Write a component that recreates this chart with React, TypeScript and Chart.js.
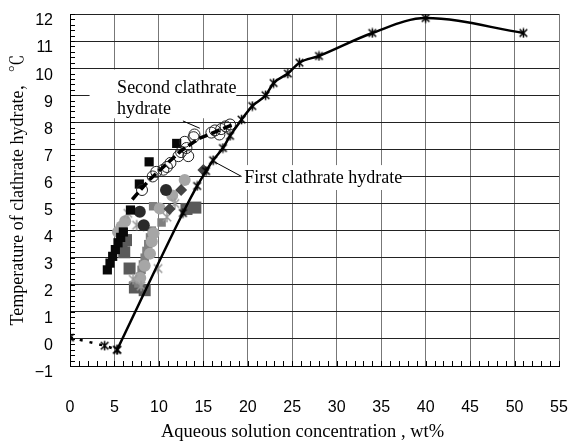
import React, { useEffect, useRef } from 'react';
import { Chart, registerables } from 'chart.js';

Chart.register(...registerables);

// ---- axes ----
const X_MIN = 0;
const X_MAX = 55;
const X_STEP = 5;
const Y_MIN = -1;
const Y_MAX = 12;
const Y_STEP = 1;
const X_TITLE = 'Aqueous solution concentration , wt%';
const Y_TITLE = 'Temperature of clathrate hydrate，℃';

// ---- first clathrate hydrate equilibrium curve (asterisks) ----
const firstX = [5.3, 12.7, 14.3, 15.3, 16.1, 17.2, 18.0, 19.3, 20.5, 22.0, 22.9, 24.5, 25.8, 28.0, 34.0, 40.0, 51.0];
const firstY = [-0.4, 4.65, 5.65, 6.2, 6.6, 7.05, 7.5, 8.1, 8.6, 9.0, 9.45, 9.8, 10.2, 10.45, 11.3, 11.85, 11.3];

// ---- ice line (dashed) ----
const iceX = [0, 3.9, 5.3];
const iceY = [0.05, -0.25, -0.4];

// ---- second clathrate hydrate trend (thick dashed) ----
const secondX = [7.0, 9.0, 11.0, 12.5, 14.5, 16.0, 18.2];
const secondY = [5.15, 5.9, 6.5, 6.95, 7.4, 7.6, 7.9];

// ---- open circles ----
const openCircX = [8.1, 9.3, 9.7, 10.5, 10.9, 11.3, 12.2, 12.5, 12.9, 13.1, 13.3, 13.9, 14.0, 15.9, 16.3, 16.8, 17.0, 17.5, 18.0];
const openCircY = [5.5, 6.0, 6.17, 6.25, 6.35, 6.5, 6.75, 6.9, 7.28, 7.05, 6.75, 7.45, 7.55, 7.62, 7.7, 7.55, 7.75, 7.85, 7.92];

// ---- black squares ----
const blackSqX = [4.2, 4.5, 4.8, 5.1, 5.4, 5.7, 6.0, 6.8, 7.8, 8.9, 12.0];
const blackSqY = [2.55, 2.8, 3.05, 3.3, 3.55, 3.75, 3.95, 4.76, 5.72, 6.54, 7.22];

// ---- dark gray big squares ----
const darkSqX = [5.8, 6.3, 6.1, 6.7, 7.3, 8.4, 13.1, 14.1];
const darkSqY = [3.5, 3.65, 3.2, 2.6, 1.9, 1.8, 4.8, 4.85];

// ---- gray squares ----
const graySqX = [7.7, 7.9, 8.05, 8.2, 8.4, 8.6, 8.8, 9.0, 9.2, 9.35, 10.3];
const graySqY = [2.05, 2.3, 2.55, 2.75, 3.0, 3.25, 3.5, 3.75, 4.0, 4.9, 4.3];

// ---- light gray circles ----
const grayCircX = [5.4, 5.8, 6.2, 7.9, 8.4, 9.0, 9.2, 9.4, 10.1, 11.5, 12.9];
const grayCircY = [3.95, 4.15, 4.35, 2.25, 2.7, 3.15, 3.6, 3.9, 4.82, 5.3, 5.87];

// ---- dark circles ----
const darkCircX = [7.85, 8.3, 10.8];
const darkCircY = [4.7, 4.2, 5.5];

// ---- dark diamonds ----
const diamondX = [11.2, 12.5, 15.0];
const diamondY = [4.8, 5.5, 6.24];

// ---- gray asterisks ----
const grayStarX = [6.5, 7.5, 10.9, 11.8, 9.9, 7.1, 8.0];
const grayStarY = [4.64, 4.2, 4.5, 5.0, 2.6, 2.2, 1.95];

// ---- annotation texts ----
const SECOND_LABEL = ['Second clathrate', 'hydrate'];
const FIRST_LABEL = ['First clathrate hydrate'];

const SERIF = "'Liberation Serif', 'Noto Serif CJK JP', 'Noto Sans CJK JP', serif";
const SANS = "'Liberation Sans Narrow', 'Liberation Sans', Arial, sans-serif";

const pts = (xs: number[], ys: number[]) => xs.map((x, i) => ({ x, y: ys[i] }));

function asterisk(color: string, size: number, lw: number) {
  const c = document.createElement('canvas');
  c.width = size;
  c.height = size;
  const g = c.getContext('2d')!;
  g.strokeStyle = color;
  g.lineWidth = lw;
  const m = size / 2;
  const r = size / 2 - lw / 2;
  const d = r * 0.8;
  g.beginPath();
  g.moveTo(m, m - r);
  g.lineTo(m, m + r);
  g.moveTo(m - d, m - d);
  g.lineTo(m + d, m + d);
  g.moveTo(m + d, m - d);
  g.lineTo(m - d, m + d);
  g.stroke();
  return c;
}

const decorPlugin = {
  id: 'decor',
  beforeDatasetsDraw(chart: any) {
    const { ctx, chartArea, scales } = chart;
    const xs = scales.x;
    const ys = scales.y;
    ctx.save();
    // minor ticks
    ctx.strokeStyle = '#000';
    ctx.lineWidth = 1;
    ctx.beginPath();
    for (let v = Y_MIN; v <= Y_MAX + 1e-9; v += 0.2) {
      const py = Math.round(ys.getPixelForValue(v)) + 0.5;
      ctx.moveTo(chartArea.left, py);
      ctx.lineTo(chartArea.left + 5, py);
    }
    for (let v = X_MIN; v <= X_MAX; v += 1) {
      const px = Math.round(xs.getPixelForValue(v)) + 0.5;
      ctx.moveTo(px, chartArea.bottom);
      ctx.lineTo(px, chartArea.bottom - 5);
    }
    ctx.stroke();

    const box = (x0: number, x1: number, y0: number, y1: number) => {
      const a = xs.getPixelForValue(x0);
      const b = xs.getPixelForValue(x1);
      const c = ys.getPixelForValue(y0);
      const d = ys.getPixelForValue(y1);
      ctx.fillStyle = '#fff';
      ctx.fillRect(a, c, b - a, d - c);
    };
    const line = (x0: number, y0: number, x1: number, y1: number) => {
      ctx.beginPath();
      ctx.moveTo(xs.getPixelForValue(x0), ys.getPixelForValue(y0));
      ctx.lineTo(xs.getPixelForValue(x1), ys.getPixelForValue(y1));
      ctx.strokeStyle = '#000';
      ctx.lineWidth = 1;
      ctx.stroke();
    };
    const text = (s: string, x: number, y: number) => {
      ctx.fillStyle = '#000';
      ctx.font = `18px ${SERIF}`;
      ctx.textAlign = 'left';
      ctx.textBaseline = 'middle';
      ctx.fillText(s, xs.getPixelForValue(x), ys.getPixelForValue(y));
    };

    box(2.2, 18.7, 9.95, 8.15);
    text(SECOND_LABEL[0], 5.3, 9.26);
    text(SECOND_LABEL[1], 5.3, 8.49);
    line(12.7, 8.05, 14.6, 7.78);

    box(19.2, 37.2, 6.42, 5.5);
    text(FIRST_LABEL[0], 19.6, 5.94);
    line(16.3, 6.53, 19.3, 6.0);
    ctx.restore();
  },
  afterDraw(chart: any) {
    const { ctx, chartArea, height } = chart;
    ctx.save();
    ctx.fillStyle = '#000';
    ctx.font = `18.5px ${SERIF}`;
    ctx.textAlign = 'center';
    ctx.textBaseline = 'middle';
    ctx.fillText(X_TITLE, (chartArea.left + chartArea.right) / 2 - 12, height - 9);
    ctx.restore();
  },
};

export default function App() {
  const ref = useRef<HTMLCanvasElement>(null);

  useEffect(() => {
    const canvas = ref.current!;
    const blackStar = asterisk('#000', 11, 1.5);
    const grayStar = asterisk('#999', 12, 1.5);

    const chart = new Chart(canvas, {
      type: 'scatter',
      data: {
        datasets: [
          {
            data: pts(firstX, firstY),
            showLine: true,
            borderColor: '#000',
            borderWidth: 2.5,
            cubicInterpolationMode: 'monotone',
            pointStyle: blackStar as any,
            pointRadius: 5,
          },
          {
            data: pts(iceX, iceY),
            showLine: true,
            borderColor: '#000',
            borderWidth: 2.5,
            borderDash: [3, 7],
            pointStyle: blackStar as any,
            pointRadius: 5,
          },
          {
            data: pts(secondX, secondY),
            showLine: true,
            borderColor: '#000',
            borderWidth: 3.5,
            borderDash: [9, 4],
            pointRadius: 0,
          },
          {
            data: pts(openCircX, openCircY),
            pointStyle: 'circle',
            pointRadius: 5.5,
            borderColor: '#222',
            borderWidth: 1,
            backgroundColor: 'rgba(255,255,255,0)',
          },
          {
            data: pts(blackSqX, blackSqY),
            pointStyle: 'rect',
            pointRadius: 6.5,
            borderWidth: 0,
            backgroundColor: '#080808',
          },
          {
            data: pts(darkCircX, darkCircY),
            pointStyle: 'circle',
            pointRadius: 6,
            borderWidth: 0,
            backgroundColor: '#2a2a2a',
          },
          {
            data: pts(diamondX, diamondY),
            pointStyle: 'rectRot',
            pointRadius: 6,
            borderWidth: 0,
            backgroundColor: '#444',
          },
          {
            data: pts(grayStarX, grayStarY),
            pointStyle: grayStar as any,
            pointRadius: 6,
          },
          {
            data: pts(grayCircX, grayCircY),
            pointStyle: 'circle',
            pointRadius: 6,
            borderWidth: 0,
            backgroundColor: '#a6a6a6',
          },
          {
            data: pts(graySqX, graySqY),
            pointStyle: 'rect',
            pointRadius: 6,
            borderWidth: 0,
            backgroundColor: '#808080',
          },
          {
            data: pts(darkSqX, darkSqY),
            pointStyle: 'rect',
            pointRadius: 8.5,
            borderWidth: 0,
            backgroundColor: '#5a5a5a',
          },
        ],
      },
      options: {
        animation: false,
        responsive: false,
        devicePixelRatio: 1,
        layout: { padding: { left: 0, right: 10, top: 14, bottom: 0 } },
        plugins: { legend: { display: false }, tooltip: { enabled: false } },
        scales: {
          x: {
            type: 'linear',
            min: X_MIN,
            max: X_MAX,
            grid: { color: '#777', lineWidth: 1, drawTicks: true, tickLength: 32, tickColor: 'rgba(0,0,0,0)' },
            border: { color: '#000', width: 1 },
            ticks: {
              stepSize: X_STEP,
              padding: 0,
              color: '#000',
              maxRotation: 0,
              autoSkip: false,
              font: { family: SANS, size: 16 },
            },
            title: { display: false },
            afterFit: (s: any) => {
              s.height = 75;
            },
          },
          y: {
            type: 'linear',
            min: Y_MIN,
            max: Y_MAX,
            grid: { color: '#222', lineWidth: 1, drawTicks: true, tickLength: 17, tickColor: 'rgba(0,0,0,0)' },
            border: { color: '#000', width: 1 },
            ticks: {
              stepSize: Y_STEP,
              padding: 0,
              labelOffset: 7,
              color: '#000',
              font: { family: SANS, size: 16 },
              callback: (v: any) => String(v).replace('-', '−'),
            },
            title: {
              display: true,
              text: Y_TITLE,
              color: '#000',
              font: { family: SERIF, size: 18, lineHeight: 1 },
              padding: { top: 9, bottom: 0 },
            },
            afterFit: (s: any) => {
              s.width = 70;
            },
          },
        },
      } as any,
      plugins: [decorPlugin],
    });
    return () => chart.destroy();
  }, []);

  return (
    <div style={{ position: 'fixed', left: 0, top: 0, width: 569, height: 441, background: '#fff' }}>
      <canvas ref={ref} width={569} height={441} style={{ width: 569, height: 441 }} />
    </div>
  );
}
